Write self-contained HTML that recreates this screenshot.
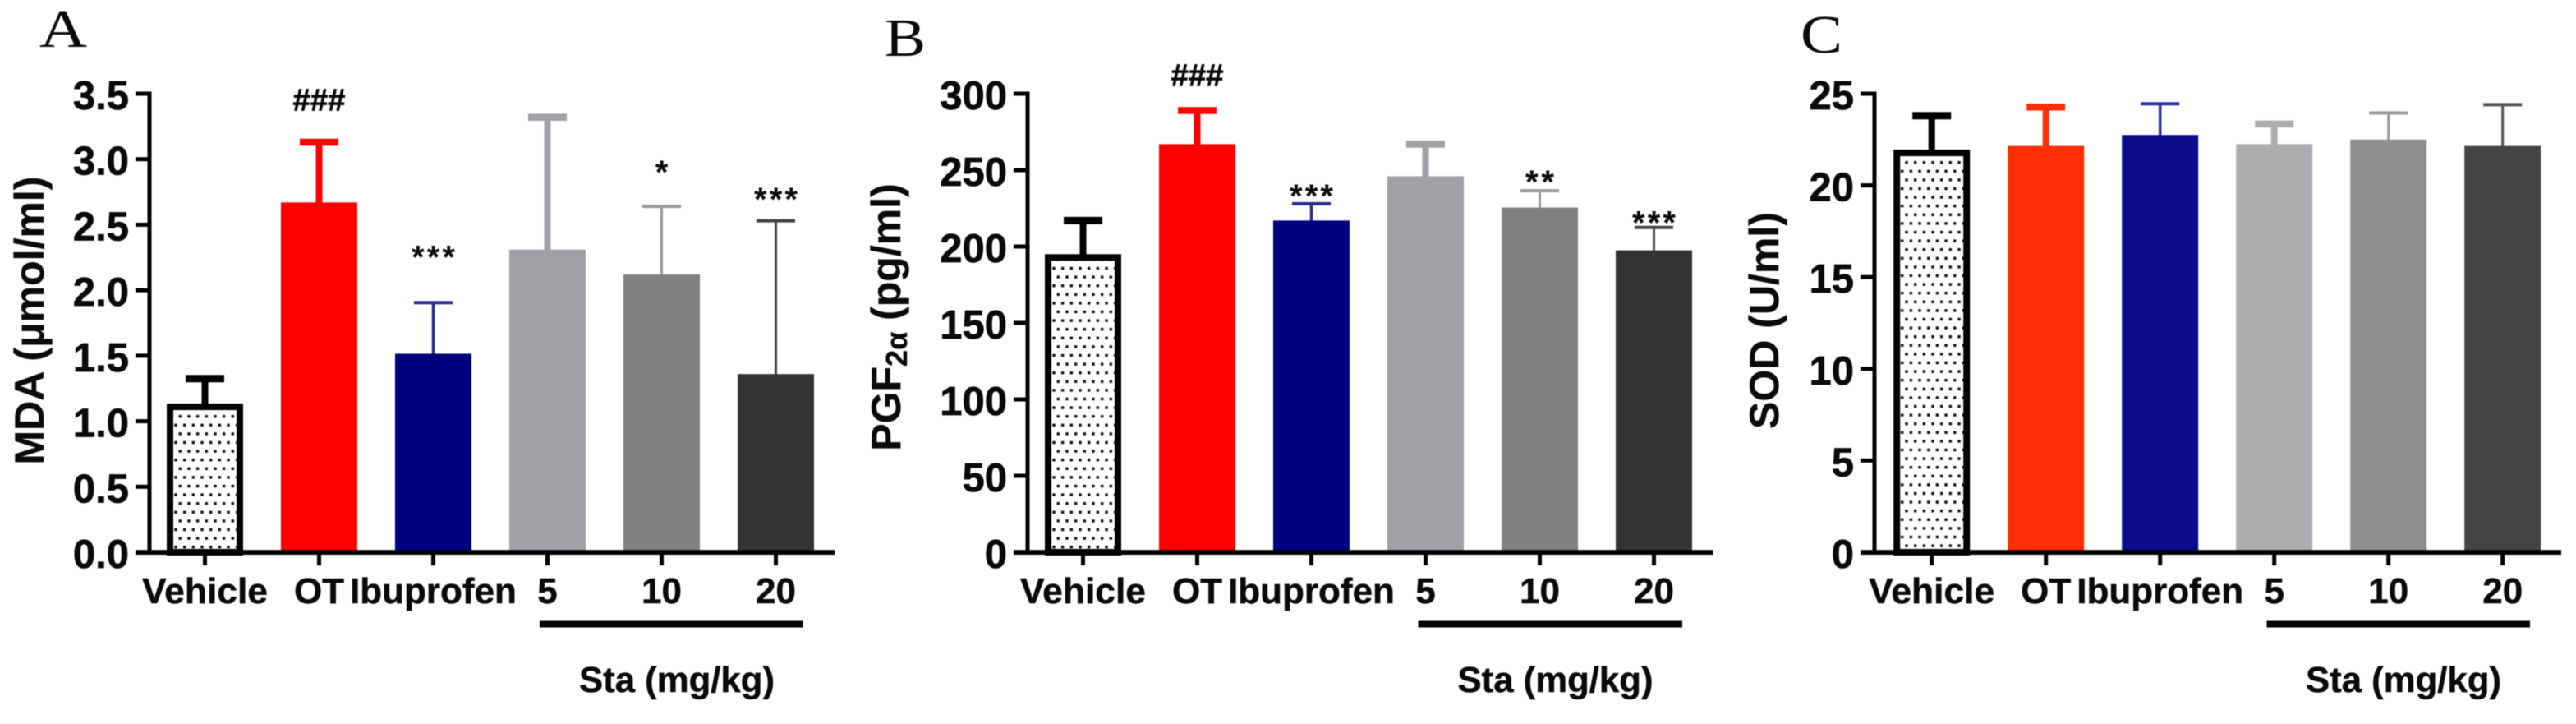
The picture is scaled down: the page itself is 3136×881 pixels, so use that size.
<!DOCTYPE html>
<html lang="en">
<head>
<meta charset="utf-8">
<title>MDA, PGF2α and SOD bar charts</title>
<style>
  html, body { margin: 0; padding: 0; background: #fff; }
  body { width: 3136px; height: 881px; overflow: hidden; }
  svg { display: block; filter: blur(0.6px); }
  text { font-family: "Liberation Sans", sans-serif; font-weight: bold; fill: #0a0a0a; }
  .panel-letter { font-family: "Liberation Serif", serif; font-weight: normal; }
</style>
</head>
<body>
<svg id="figure" xmlns="http://www.w3.org/2000/svg" width="3136" height="881" viewBox="0 0 3136 881">
  <defs>
    <pattern id="dots-a" patternUnits="userSpaceOnUse" x="214" y="506.7" width="10.67" height="21.2">
      <rect x="3.6" y="-1.7" width="3.4" height="3.4" fill="#111"/>
      <rect x="3.6" y="19.5" width="3.4" height="3.4" fill="#111"/>
      <rect x="-1.7" y="8.9" width="3.4" height="3.4" fill="#111"/>
      <rect x="8.97" y="8.9" width="3.4" height="3.4" fill="#111"/>
    </pattern>
    <pattern id="dots-b" patternUnits="userSpaceOnUse" x="1283" y="506.7" width="10.67" height="21.2">
      <rect x="3.6" y="-1.7" width="3.4" height="3.4" fill="#111"/>
      <rect x="3.6" y="19.5" width="3.4" height="3.4" fill="#111"/>
      <rect x="-1.7" y="8.9" width="3.4" height="3.4" fill="#111"/>
      <rect x="8.97" y="8.9" width="3.4" height="3.4" fill="#111"/>
    </pattern>
    <pattern id="dots-c" patternUnits="userSpaceOnUse" x="2315.7" y="197.7" width="10.67" height="21.2">
      <rect x="3.6" y="-1.7" width="3.4" height="3.4" fill="#111"/>
      <rect x="3.6" y="19.5" width="3.4" height="3.4" fill="#111"/>
      <rect x="-1.7" y="8.9" width="3.4" height="3.4" fill="#111"/>
      <rect x="8.97" y="8.9" width="3.4" height="3.4" fill="#111"/>
    </pattern>
  </defs>

  <text class="panel-letter" x="48" y="57" font-size="66" textLength="58" lengthAdjust="spacingAndGlyphs">A</text>
  <text class="panel-letter" x="1077" y="68" font-size="66" textLength="50" lengthAdjust="spacingAndGlyphs">B</text>
  <text class="panel-letter" x="2192" y="64" font-size="66" textLength="51" lengthAdjust="spacingAndGlyphs">C</text>

  <text transform="translate(53,390) rotate(-90)" text-anchor="middle" font-size="50" stroke="#0a0a0a" stroke-width="0.4">MDA (μmol/ml)</text>
  <text transform="translate(1096,386) rotate(-90)" text-anchor="middle" font-size="50" stroke="#0a0a0a" stroke-width="0.4">PGF<tspan font-size="36" dy="8">2α</tspan><tspan dy="-8"> (pg/ml)</tspan></text>
  <text transform="translate(2165,390) rotate(-90)" text-anchor="middle" font-size="50" stroke="#0a0a0a" stroke-width="0.4">SOD (U/ml)</text>
</svg>

<script>
// ---- chart data ----
const categories = ['Vehicle', 'OT', 'Ibuprofen', '5', '10', '20'];

const ticksA = ['0.0', '0.5', '1.0', '1.5', '2.0', '2.5', '3.0', '3.5'];
const meansA = [1.135, 2.67, 1.515, 2.31, 2.12, 1.36];
const errorsA = [0.19, 0.46, 0.39, 1.01, 0.52, 1.17];
const marksA = ['', '###', '***', '', '*', '***'];
const markLevelsA = [0, 3.37, 2.24, 0, 2.89, 2.68];

const ticksB = ['0', '50', '100', '150', '200', '250', '300'];
const meansB = [195, 267, 217, 246, 225.5, 197.5];
const errorsB = [22, 22, 11, 21, 11, 15];
const marksB = ['', '###', '***', '', '**', '***'];
const markLevelsB = [0, 305, 232, 0, 241, 214.5];

const ticksC = ['0', '5', '10', '15', '20', '25'];
const meansC = [21.95, 22.15, 22.75, 22.25, 22.5, 22.15];
const errorsC = [1.85, 2.12, 1.7, 1.1, 1.45, 2.25];
const marksC = ['', '', '', '', '', ''];
const markLevelsC = [0, 0, 0, 0, 0, 0];

const groupLabel = 'Sta (mg/kg)';

// ---- drawing ----
const NS = 'http://www.w3.org/2000/svg';
const svg = document.getElementById('figure');
const Y_BASE = 672;
const Y_TOP = 114;

function make(tag, attrs, text) {
  const el = document.createElementNS(NS, tag);
  for (const k in attrs) el.setAttribute(k, attrs[k]);
  if (text !== undefined) el.textContent = text;
  svg.appendChild(el);
  return el;
}

function drawPanel(p) {
  const maxTick = parseFloat(p.ticks[p.ticks.length - 1]);
  const yScale = v => Y_BASE - (v / maxTick) * (Y_BASE - Y_TOP);
  const xScale = i => p.firstCenter + i * p.step;

  // error bars sit behind the bars
  p.means.forEach((m, i) => {
    const cx = xScale(i);
    const yTop = yScale(m + p.errors[i]);
    const stem = make('rect', { x: cx - p.stemW[i] / 2, y: yTop, width: p.stemW[i], height: yScale(m) - yTop + 2, fill: p.errColors[i] });
    
    
    const cap = make('rect', { x: cx - 23.5, y: yTop - p.capH[i] / 2, width: 47, height: p.capH[i], fill: p.errColors[i] });
    
    
  });

  // bars
  p.means.forEach((m, i) => {
    const cx = xScale(i);
    const yTop = yScale(m);
    let bar;
    if (i === 0) {
      bar = make('rect', { x: cx - 42.5, y: yTop + 4, width: 85, height: Y_BASE - yTop - 4, fill: 'url(#' + p.pattern + ')', stroke: '#000', 'stroke-width': 8 });
    } else {
      bar = make('rect', { x: cx - 46.5, y: yTop, width: 93, height: Y_BASE - yTop, fill: p.colors[i] });
    }
    
    
  });

  // significance marks
  p.marks.forEach((s, i) => {
    if (!s) return;
    const isStar = s[0] === '*';
    const y = yScale(p.markLevels[i]) + (isStar ? 11.5 : 0);
    const t = make('text', { x: xScale(i), y: y, 'text-anchor': 'middle', 'font-size': isStar ? 40 : 38, stroke: '#0a0a0a', 'stroke-width': isStar ? 0 : 0.7 }, s);
    t.setAttribute('textLength', isStar ? 18 * s.length - 1 : 64);
    t.setAttribute('lengthAdjust', isStar ? 'spacing' : 'spacingAndGlyphs');
    
    
  });

  // y axis
  const yAxis = make('rect', { x: p.axisX - 2.5, y: Y_TOP - 2.5, width: 5, height: Y_BASE - Y_TOP + 5, fill: '#000' });
  
  
  p.ticks.forEach(label => {
    const y = yScale(parseFloat(label));
    const tick = make('rect', { x: p.axisX - 17, y: y - 2.5, width: 16, height: 5, fill: '#000' });
    
    
    const t = make('text', { x: p.axisX - 25, y: y + 19, 'text-anchor': 'end', 'font-size': 49, stroke: '#0a0a0a', 'stroke-width': 0.7 }, label);
    
    
  });

  // x axis
  const xAxis = make('rect', { x: p.axisX - 17, y: Y_BASE - 2.8, width: p.axisEnd - p.axisX + 17, height: 5.8, fill: '#000' });
  
  
  categories.forEach((c, i) => {
    const cx = xScale(i);
    const tick = make('rect', { x: cx - 2.5, y: Y_BASE, width: 5, height: 16, fill: '#000' });
    
    
    const t = make('text', { x: cx, y: 734, 'text-anchor': 'middle', 'font-size': 44, stroke: '#0a0a0a', 'stroke-width': 0.5 }, c);
    if (c === 'Vehicle') {
      t.setAttribute('textLength', 153);
      t.setAttribute('lengthAdjust', 'spacingAndGlyphs');
    }
    
    
  });

  // dose group bracket
  const groupLine = make('rect', { x: p.groupStart, y: 755.5, width: p.groupEnd - p.groupStart, height: 8, fill: '#000' });
  
  
  const groupText = make('text', { x: p.groupTextX, y: 842, 'font-size': 44, textLength: 238, lengthAdjust: 'spacingAndGlyphs', stroke: '#0a0a0a', 'stroke-width': 0.5 }, groupLabel);
  
  
}

const stemWidths = [8, 8, 3.5, 8, 3, 3];
const capHeights = [9, 8.5, 4, 8.5, 4, 4];
const colorsAB = ['#fff', '#ff0000', '#000080', '#a0a0a5', '#808080', '#333333'];
const errColorsAB = ['#000', '#ff0000', '#2a2a90', '#a0a0a5', '#999999', '#444444'];
const colorsC = ['#fff', '#ff2e05', '#0a0c8a', '#adadb0', '#8e8e8e', '#444444'];
const errColorsC = ['#000', '#ff2e05', '#2a2c9a', '#adadb0', '#999999', '#555555'];

drawPanel({ id: 'a', ticks: ticksA, means: meansA, errors: errorsA, marks: marksA, markLevels: markLevelsA,
  axisX: 182, axisEnd: 1016.5, firstCenter: 249.5, step: 139, pattern: 'dots-a',
  colors: colorsAB, errColors: errColorsAB, stemW: stemWidths, capH: capHeights,
  groupStart: 657, groupEnd: 977.5, groupTextX: 705 });

drawPanel({ id: 'b', ticks: ticksB, means: meansB, errors: errorsB, marks: marksB, markLevels: markLevelsB,
  axisX: 1251, axisEnd: 2085.5, firstCenter: 1318.5, step: 139, pattern: 'dots-b',
  colors: colorsAB, errColors: errColorsAB, stemW: stemWidths, capH: capHeights,
  groupStart: 1726.5, groupEnd: 2048, groupTextX: 1774.5 });

drawPanel({ id: 'c', ticks: ticksC, means: meansC, errors: errorsC, marks: marksC, markLevels: markLevelsC,
  axisX: 2282, axisEnd: 3118, firstCenter: 2351.7, step: 139, pattern: 'dots-c',
  colors: colorsC, errColors: errColorsC, stemW: stemWidths, capH: capHeights,
  groupStart: 2759.5, groupEnd: 3080, groupTextX: 2807 });
</script>
</body>
</html>
